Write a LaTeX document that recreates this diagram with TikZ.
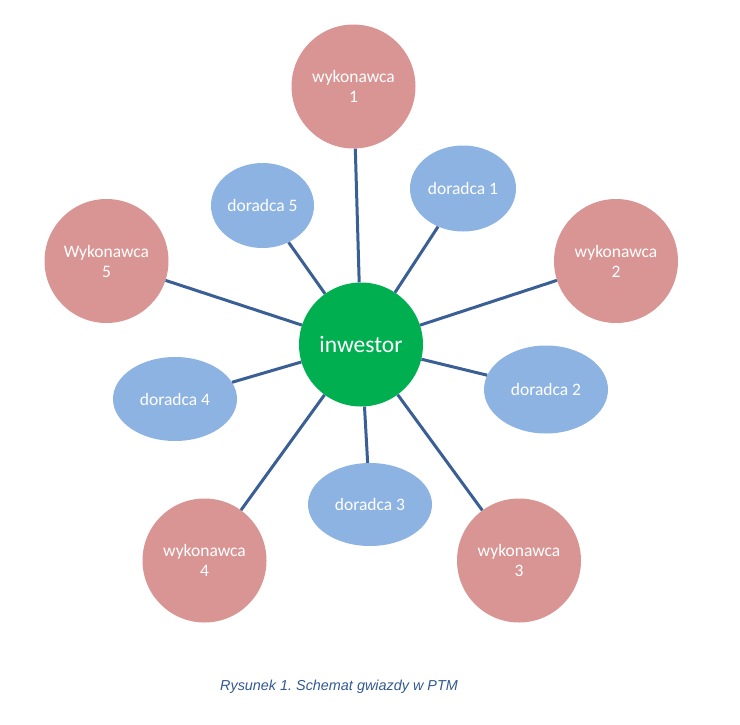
\documentclass[tikz,border=0pt]{standalone}
\usepackage{fontspec}
\setmainfont{Carlito}
\newfontfamily\capfont{Liberation Sans}
\usetikzlibrary{shapes.geometric}
\definecolor{wykcol}{HTML}{D99594}
\definecolor{dorcol}{HTML}{8DB3E2}
\definecolor{inwcol}{HTML}{00B050}
\definecolor{lincol}{HTML}{3A5F94}
\definecolor{capcol}{HTML}{335A91}
\frenchspacing
\begin{document}
\begin{tikzpicture}[x=1pt,y=-1pt,
  wykbox/.style={circle,fill=wykcol,minimum size=124pt,inner sep=0pt,text=white,
    font=\fontsize{17.5}{20}\selectfont,align=center},
  dorbox/.style={ellipse,fill=dorcol,inner sep=0pt,text=white,
    font=\fontsize{17.5}{20}\selectfont},
  inwbox/.style={circle,fill=inwcol,minimum size=124pt,inner sep=0pt,text=white,
    font=\fontsize{23.5}{27}\selectfont},
  link/.style={draw=lincol,line width=3pt}]
\useasboundingbox (0,0) rectangle (740,724);
\fill[white] (0,0) rectangle (740,724);

\node[inwbox] (inw) at (361,344.5) {inwestor};

\node[wykbox] (w1) at (353.5,86.5) {wykonawca\\1};
\node[wykbox] (w2) at (616,261) {wykonawca\\2};
\node[wykbox] (w3) at (519,560.5) {wykonawca\\3};
\node[wykbox] (w4) at (204.5,560.5) {wykonawca\\4};
\node[wykbox] (w5) at (106.5,261) {Wykonawca\\5};

\node[dorbox,minimum width=106pt,minimum height=86pt] (d1) at (463,188.5) {doradca 1};
\node[dorbox,minimum width=124pt,minimum height=88pt] (d2) at (546,389.5) {doradca 2};
\node[dorbox,minimum width=124pt,minimum height=83pt] (d3) at (370,504.5) {doradca 3};
\node[dorbox,minimum width=124pt,minimum height=84pt] (d4) at (175,399) {doradca 4};
\node[dorbox,minimum width=103pt,minimum height=85pt] (d5) at (262.5,205.5) {doradca 5};

\foreach \n in {w1,w2,w3,w4,w5,d1,d2,d3,d4,d5}
  \draw[link] (inw) -- (\n);

\node[font=\capfont\itshape\fontsize{14.4}{17}\selectfont,text=capcol] (cap) at (339,687) {Rysunek 1. Schemat gwiazdy w PTM};
\end{tikzpicture}
\end{document}
